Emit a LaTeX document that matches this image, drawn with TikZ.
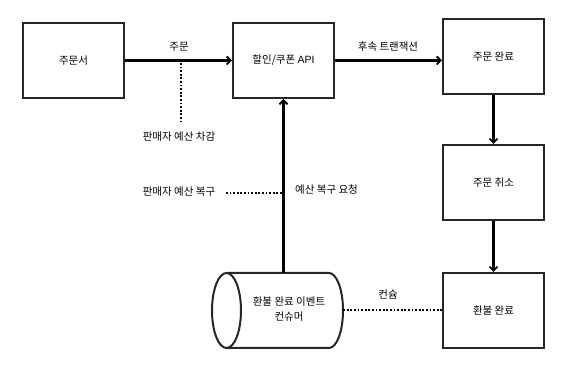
\documentclass[tikz,border=0pt]{standalone}
\usepackage{fontspec}
\setmainfont{Noto Sans CJK KR}
\newfontfamily\lat{Liberation Sans}
\usetikzlibrary{arrows.meta}
\begin{document}
\begin{tikzpicture}[x=1pt,y=-1pt,
  box/.style={draw=black!85,line width=2pt,minimum width=101pt,minimum height=75pt,inner sep=0pt,font=\fontsize{10.5}{12}\selectfont},
  lbl/.style={inner sep=1pt,font=\fontsize{10.5}{12}\selectfont},
  arr/.style={line width=2.2pt,-{Straight Barb[length=4pt,width=8pt,line width=1.8pt]}},
  dots/.style={line width=2pt,dash pattern=on 1.8pt off 1.8pt}]
\useasboundingbox (0,0) rectangle (574,379);
\fill[white] (0,0) rectangle (574,379);
\node[box] (ord) at (73.5,60.5) {주문서};
\node[box] (api) at (283.5,60.5) {할인/쿠폰 {\lat API}};
\node[box] (done) at (493.5,56.5) {주문 완료};
\node[box] (cancel) at (493.5,182.5) {주문 취소};
\node[box] (refund) at (493.5,310.5) {환불 완료};
% cylinder
\node[minimum width=131pt,minimum height=75pt,inner sep=0pt] (cyl) at (277.5,310.5) {};
\node[lbl,align=center,font=\fontsize{10.5}{15}\selectfont] (cyltext) at (289,309.5) {환불 완료 이벤트\\컨슈머};
\draw[line width=2pt,draw=black!85] (226.5,273) -- (329,273) arc[start angle=-90,end angle=90,x radius=14,y radius=37.5] -- (226.5,348);
\draw[line width=2pt,draw=black!85] (226.5,310.5) ellipse[x radius=14.5,y radius=37.5];
% arrows
\draw[arr] (ord) -- (api.west);
\node[lbl] (l1) at (179,47) {주문};
\draw[arr] (api) -- (api.east -| done.west);
\node[lbl] (l2) at (388,47) {후속 트랜잭션};
\draw[arr] (done) -- (cancel);
\draw[arr] (cancel) -- (refund);
\coordinate (cyltop) at (api.south |- cyl.north);
\draw[arr] (cyltop) -- (api.south);
\node[lbl,anchor=west] (l3) at (294,190) {예산 복구 요청};
% dotted
\coordinate (d1) at (181,63);
\coordinate (d2) at (181,122);
\draw[dots] (d1) -- (d2);
\node[lbl] (l4) at (179,137) {판매자 예산 차감};
\node[lbl] (l5) at (179,192) {판매자 예산 복구};
\coordinate (d3) at (226,193);
\coordinate (d4) at (282,193);
\draw[dots] (d3) -- (d4);
\draw[dots] (cyl.east) -- (refund.west);
\node[lbl] (l6) at (388,295) {컨슘};
\end{tikzpicture}
\end{document}
